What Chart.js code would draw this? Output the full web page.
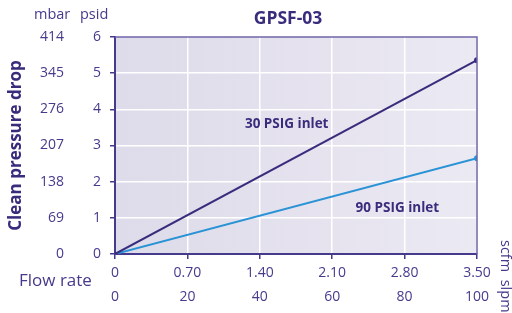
<!DOCTYPE html>
<html>
<head>
<meta charset="utf-8">
<script src="https://cdn.jsdelivr.net/npm/chart.js@4/dist/chart.umd.min.js"></script>
<style>
html,body{margin:0;padding:0;background:#fff;}
#wrap{width:512px;height:313px;position:relative;}
</style>
</head>
<body>
<div id="wrap"><canvas id="c" width="512" height="313"></canvas></div>
<script>
// ---- data ----
const chartTitle = 'GPSF-03';
const flowScfm = [0, 3.5];
const drop30psig = [0, 5.36];
const drop90psig = [0, 2.65];
const seriesNames = ['30 PSIG inlet', '90 PSIG inlet'];
const scfmTicks = [0, 0.70, 1.40, 2.10, 2.80, 3.50];
const slpmTicks = [0, 20, 40, 60, 80, 100];
const psidTicks = [0, 1, 2, 3, 4, 5, 6];
const mbarTicks = [0, 69, 138, 207, 276, 345, 414];

const PURPLE = '#463a8c';
const DARK = '#3a2c7c';
const BLUE = '#2a93d5';
const FONT = '"Open Sans", Lato, sans-serif';

const mk = (xs, ys) => xs.map((x, i) => ({x, y: ys[i]}));
const lastOnly = n => (ctx) => ctx.dataIndex === n - 1 ? 3 : 0;

const bgPlugin = {
  id: 'bg',
  beforeDraw(chart) {
    const {ctx, chartArea: a} = chart;
    const g = ctx.createLinearGradient(a.left, 0, a.right, 0);
    g.addColorStop(0, '#dedbea');
    g.addColorStop(1, '#ebe9f2');
    ctx.save();
    ctx.fillStyle = g;
    ctx.fillRect(a.left, a.top, a.right - a.left, a.bottom - a.top);
    ctx.restore();
  },
  afterDatasetsDraw(chart) {
    const {ctx, chartArea: a, scales} = chart;
    ctx.save();
    // top and right frame
    ctx.strokeStyle = '#6f66a8';
    ctx.lineWidth = 1.5;
    ctx.beginPath();
    ctx.moveTo(a.left, a.top); ctx.lineTo(a.right, a.top); ctx.lineTo(a.right, a.bottom);
    ctx.stroke();
    // series labels
    ctx.fillStyle = DARK;
    ctx.font = 'bold 13.5px ' + FONT;
    ctx.textAlign = 'center';
    ctx.textBaseline = 'middle';
    ctx.fillText(seriesNames[0], scales.x.getPixelForValue(1.66), scales.y.getPixelForValue(3.58));
    ctx.fillText(seriesNames[1], scales.x.getPixelForValue(2.73), scales.y.getPixelForValue(1.28));
    // title
    ctx.font = 'bold 17.5px ' + FONT;
    ctx.fillText(chartTitle, 288, 19);
    // unit headers
    ctx.fillStyle = PURPLE;
    ctx.font = '14.5px ' + FONT;
    ctx.textAlign = 'left';
    ctx.fillText('mbar', 34, 15);
    ctx.fillText('psid', 80, 15);
    ctx.font = '17px ' + FONT;
    ctx.fillText('Flow rate', 19, 281);
    // rotated units
    ctx.translate(505, 240);
    ctx.rotate(Math.PI / 2);
    ctx.font = '14.5px ' + FONT;
    ctx.fillText('scfm  slpm', 0, 0);
    ctx.restore();
  }
};

const fixW = w => s => { s.width = w; };
const fixH = h => s => { s.height = h; };

new Chart(document.getElementById('c'), {
  type: 'line',
  data: {
    datasets: [
      {label: seriesNames[0], data: mk(flowScfm, drop30psig), borderColor: DARK, backgroundColor: DARK,
       borderWidth: 2, pointRadius: lastOnly(flowScfm.length), pointBorderWidth: 0, tension: 0, xAxisID: 'x', yAxisID: 'y'},
      {label: seriesNames[1], data: mk(flowScfm, drop90psig), borderColor: BLUE, backgroundColor: BLUE,
       borderWidth: 2, pointRadius: lastOnly(flowScfm.length), pointBorderWidth: 0, tension: 0, xAxisID: 'x', yAxisID: 'y'}
    ]
  },
  options: {
    responsive: false,
    animation: false,
    layout: {padding: {top: 37, right: 35, left: 0, bottom: 0}},
    plugins: {legend: {display: false}, tooltip: {enabled: false}},
    scales: {
      x: {
        type: 'linear', position: 'bottom', weight: 0,
        min: 0, max: 3.5,
        afterBuildTicks: s => { s.ticks = scfmTicks.map(v => ({value: v})); },
        afterFit: fixH(27),
        ticks: {color: PURPLE, font: {family: FONT, size: 14}, padding: 6,
                callback: v => v === 0 ? '0' : v.toFixed(2), maxRotation: 0, autoSkip: false},
        grid: {color: '#ffffff', lineWidth: 1.5, tickColor: PURPLE, tickLength: 5, drawOnChartArea: true},
        border: {color: PURPLE, width: 2}
      },
      x2: {
        type: 'linear', position: 'bottom', weight: 1,
        min: 0, max: 100,
        afterBuildTicks: s => { s.ticks = slpmTicks.map(v => ({value: v})); },
        afterFit: fixH(32),
        ticks: {color: PURPLE, font: {family: FONT, size: 14}, padding: 8, maxRotation: 0, autoSkip: false},
        grid: {display: false, drawTicks: false},
        border: {display: false}
      },
      y: {
        type: 'linear', position: 'left', weight: 0,
        min: 0, max: 6,
        afterBuildTicks: s => { s.ticks = psidTicks.map(v => ({value: v})); },
        afterFit: fixW(50),
        ticks: {color: PURPLE, font: {family: FONT, size: 14}, padding: 9},
        grid: {color: (c) => c.tick && c.tick.value === 6 ? 'rgba(0,0,0,0)' : '#ffffff', lineWidth: 1.5, tickColor: PURPLE, tickLength: 5},
        border: {color: PURPLE, width: 2}
      },
      y2: {
        type: 'linear', position: 'left', weight: 1,
        min: 0, max: 414,
        afterBuildTicks: s => { s.ticks = mbarTicks.map(v => ({value: v})); },
        afterFit: fixW(65),
        ticks: {color: PURPLE, font: {family: FONT, size: 14}, padding: 1},
        grid: {display: false, drawTicks: false},
        border: {display: false},
        title: {display: true, text: 'Clean pressure drop', color: DARK,
                font: {family: FONT, size: 17, weight: 'bold'}, padding: {top: 6, bottom: 0}}
      }
    }
  },
  plugins: [bgPlugin]
});
</script>
</body>
</html>
